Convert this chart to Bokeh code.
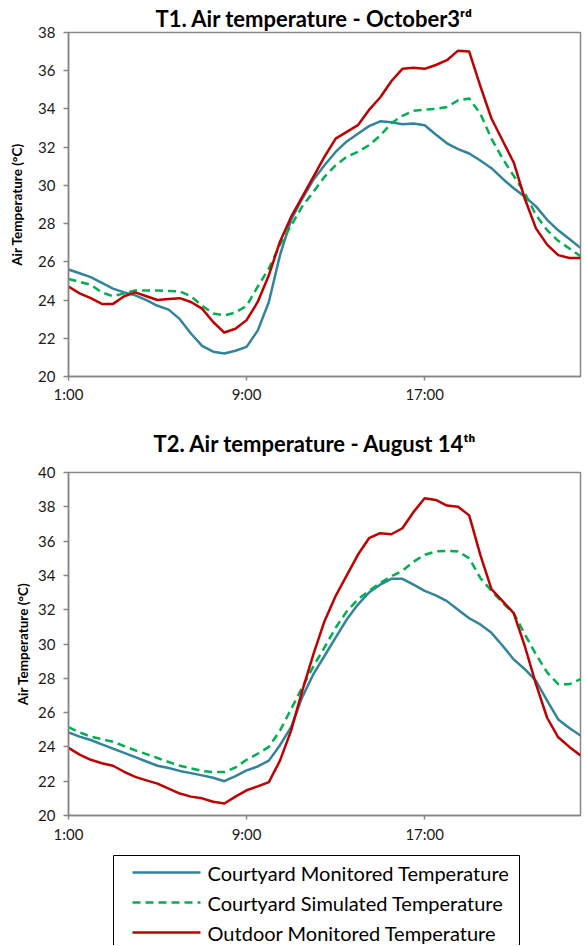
from bokeh.plotting import figure
from bokeh.layouts import column
from bokeh.models import Range1d, FixedTicker
from bokeh.core.properties import value
from bokeh.embed import file_html
from bokeh.resources import INLINE

# ---------------- data ----------------
HOURS = [1.0, 1.5, 2.0, 2.5, 3.0, 3.5, 4.0, 4.5, 5.0, 5.5, 6.0, 6.5, 7.0, 7.5,
         8.0, 8.5, 9.0, 9.5, 10.0, 10.5, 11.0, 11.5, 12.0, 12.5, 13.0, 13.5,
         14.0, 14.5, 15.0, 15.5, 16.0, 16.5, 17.0, 17.5, 18.0, 18.5, 19.0,
         19.5, 20.0, 20.5, 21.0, 21.5, 22.0, 22.5, 23.0, 23.5, 24.0]

# T1 - October 3rd
T1_MONITORED = [25.6, 25.4, 25.2, 24.9, 24.6, 24.4, 24.25, 24.0, 23.7, 23.5, 23.0,
                22.25, 21.6, 21.3, 21.2, 21.35, 21.55, 22.4, 23.9, 26.35, 28.2,
                29.3, 30.3, 31.05, 31.75, 32.3, 32.7, 33.1, 33.35, 33.3, 33.2,
                33.24, 33.15, 32.66, 32.2, 31.9, 31.67, 31.3, 30.9, 30.35, 29.85,
                29.4, 28.9, 28.2, 27.65, 27.2, 26.73]
T1_SIMULATED = [25.1, 24.95, 24.8, 24.4, 24.2, 24.35, 24.5, 24.5, 24.5, 24.48, 24.45,
                24.2, 23.7, 23.3, 23.2, 23.35, 23.7, 24.7, 25.65, 26.9, 27.9, 28.9,
                29.66, 30.45, 31.05, 31.5, 31.75, 32.1, 32.6, 33.25, 33.64, 33.9,
                33.97, 34.0, 34.1, 34.45, 34.55, 33.75, 32.45, 31.4, 30.5, 29.6,
                28.45, 27.66, 27.1, 26.7, 26.3]
T1_OUTDOOR = [24.7, 24.35, 24.1, 23.8, 23.8, 24.2, 24.4, 24.2, 24.0, 24.05, 24.1,
              23.9, 23.55, 22.85, 22.3, 22.5, 22.95, 23.9, 25.3, 27.05, 28.35,
              29.4, 30.45, 31.5, 32.45, 32.8, 33.15, 33.95, 34.6, 35.45, 36.1,
              36.15, 36.1, 36.3, 36.55, 37.05, 37.0, 35.2, 33.5, 32.35, 31.2,
              29.3, 27.75, 26.9, 26.35, 26.2, 26.2]

# T2 - August 14th
T2_MONITORED = [24.85, 24.6, 24.4, 24.15, 23.9, 23.65, 23.4, 23.15, 22.9, 22.77, 22.6,
                22.47, 22.34, 22.2, 22.0, 22.3, 22.63, 22.86, 23.2, 24.1, 25.15,
                26.9, 28.24, 29.3, 30.37, 31.43, 32.3, 33.0, 33.46, 33.8, 33.8,
                33.46, 33.1, 32.84, 32.5, 32.0, 31.5, 31.14, 30.65, 29.9, 29.1,
                28.53, 27.85, 26.7, 25.6, 25.1, 24.66]
T2_SIMULATED = [25.15, 24.85, 24.6, 24.45, 24.3, 24.05, 23.8, 23.58, 23.35, 23.12, 22.9,
                22.75, 22.6, 22.53, 22.53, 22.8, 23.25, 23.6, 24.0, 24.95, 26.2,
                27.47, 28.7, 29.8, 30.95, 31.9, 32.6, 33.1, 33.56, 33.95, 34.27,
                34.8, 35.2, 35.4, 35.43, 35.4, 35.0, 33.85, 33.1, 32.4, 31.8,
                30.56, 29.4, 28.34, 27.66, 27.66, 27.95]
T2_OUTDOOR = [23.95, 23.55, 23.25, 23.05, 22.9, 22.55, 22.25, 22.05, 21.86, 21.57, 21.28,
              21.1, 21.0, 20.8, 20.7, 21.1, 21.47, 21.7, 21.95, 23.2, 24.95,
              27.27, 29.4, 31.33, 32.8, 34.0, 35.2, 36.17, 36.46, 36.4, 36.75,
              37.7, 38.5, 38.4, 38.07, 38.0, 37.5, 35.2, 33.2, 32.5, 31.8,
              29.87, 27.66, 25.7, 24.56, 24.0, 23.5]

X_TICKS = [1, 9, 17]
X_TICK_LABELS = ["1:00", "9:00", "17:00"]
T1_Y_TICKS = [20, 22, 24, 26, 28, 30, 32, 34, 36, 38]
T2_Y_TICKS = [20, 22, 24, 26, 28, 30, 32, 34, 36, 38, 40]

SERIES_NAMES = ["Courtyard Monitored Temperature",
                "Courtyard Simulated Temperature",
                "Outdoor Monitored Temperature"]
Y_LABEL = "Air Temperature (°C)"
T1_TITLE = "T1. Air temperature - October3ʳᵈ"
T2_TITLE = "T2. Air temperature - August 14ᵗʰ"

# ---------------- styles ----------------
BLUE = "#31849B"
GREEN = "#00B050"
RED = "#C00000"
AXIS = "#868686"
TEXT = "#1a1a1a"
FONT = "Lato"
LW = 2.5
DASH = "8 5"
W = 584
LEFT = 68      # frame left edge (px) shared by every figure of the column
RIGHT = 4      # border right of the frame


def make_chart(height, top, bottom, y_ticks, title, title_offset, title_standoff,
               label_standoff, x_standoff):
    p = figure(width=W, height=height,
               x_range=Range1d(1, 24), y_range=Range1d(y_ticks[0], y_ticks[-1]),
               output_backend="svg", toolbar_location=None,
               min_border_left=LEFT, min_border_right=RIGHT,
               min_border_top=top, min_border_bottom=bottom)
    p.title.text = title
    p.title.align = "left"
    p.title.offset = title_offset
    p.title.standoff = title_standoff
    p.title.text_font = FONT
    p.title.text_font_style = "bold"
    p.title.text_font_size = "22px"
    p.title.text_color = "black"

    p.grid.visible = False
    p.outline_line_color = AXIS
    p.outline_line_width = 1.5

    p.xaxis.ticker = FixedTicker(ticks=X_TICKS)
    p.xaxis.major_label_overrides = dict(zip(X_TICKS, X_TICK_LABELS))
    p.yaxis.ticker = FixedTicker(ticks=y_ticks)
    for ax in p.axis:
        ax.axis_line_color = AXIS
        ax.axis_line_width = 1.5
        ax.major_tick_line_color = AXIS
        ax.major_tick_line_width = 1.5
        ax.minor_tick_line_color = None
        ax.major_tick_in = 0
        ax.major_label_text_font = FONT
        ax.major_label_text_font_size = "15px"
        ax.major_label_text_color = TEXT
    p.xaxis.major_tick_out = 4
    p.xaxis.major_label_standoff = x_standoff
    p.yaxis.major_tick_out = 5
    p.yaxis.major_label_standoff = 8
    p.yaxis.axis_label = Y_LABEL
    p.yaxis.axis_label_text_font = FONT
    p.yaxis.axis_label_text_font_style = "bold"
    p.yaxis.axis_label_text_font_size = "13.5px"
    p.yaxis.axis_label_text_color = "black"
    p.yaxis.axis_label_standoff = label_standoff
    return p


def add_series(p, mon, sim, out):
    p.line(HOURS, mon, line_color=BLUE, line_width=LW, line_join="round")
    p.line(HOURS, sim, line_color=GREEN, line_width=LW, line_dash=DASH, line_join="round")
    p.line(HOURS, out, line_color=RED, line_width=LW, line_join="round")


# ---------------- chart T1 ----------------
p1 = make_chart(410, 32, 34, T1_Y_TICKS, T1_TITLE, 87, 2, 10, 4)
add_series(p1, T1_MONITORED, T1_SIMULATED, T1_OUTDOOR)

# ---------------- chart T2 ----------------
p2 = make_chart(435, 62, 28, T2_Y_TICKS, T2_TITLE, 85, 32, 4, 5)
add_series(p2, T2_MONITORED, T2_SIMULATED, T2_OUTDOOR)

# ---------------- legend (x and y in page pixels) ----------------
LH = 100
lg = figure(width=W, height=LH, x_range=Range1d(LEFT, W - RIGHT),
            y_range=Range1d(0, LH), x_axis_type=None, y_axis_type=None,
            output_backend="svg", toolbar_location=None,
            min_border_left=LEFT, min_border_right=RIGHT,
            min_border_top=0, min_border_bottom=0)
lg.outline_line_color = None
lg.title.visible = False
TOP_Y = 845 + LH          # page y of this figure's bottom edge
lg.quad(left=[113], right=[519], top=[TOP_Y - 855], bottom=[-20],
        fill_color="white", line_color="black", line_width=1)
ROW_Y = [TOP_Y - 872, TOP_Y - 902, TOP_Y - 932]
lg.line([132, 200], [ROW_Y[0], ROW_Y[0]], line_color=BLUE, line_width=LW)
lg.line([132, 200], [ROW_Y[1], ROW_Y[1]], line_color=GREEN, line_width=LW, line_dash=DASH)
lg.line([132, 200], [ROW_Y[2], ROW_Y[2]], line_color=RED, line_width=LW)
lg.text(x=[207, 207, 207], y=ROW_Y, text=SERIES_NAMES, text_align="left",
        text_baseline="middle", text_font=value(FONT), text_font_size="20px",
        text_color="black")

layout = column(p1, p2, lg, spacing=0)
open("out.html", "w").write(file_html(layout, INLINE))
